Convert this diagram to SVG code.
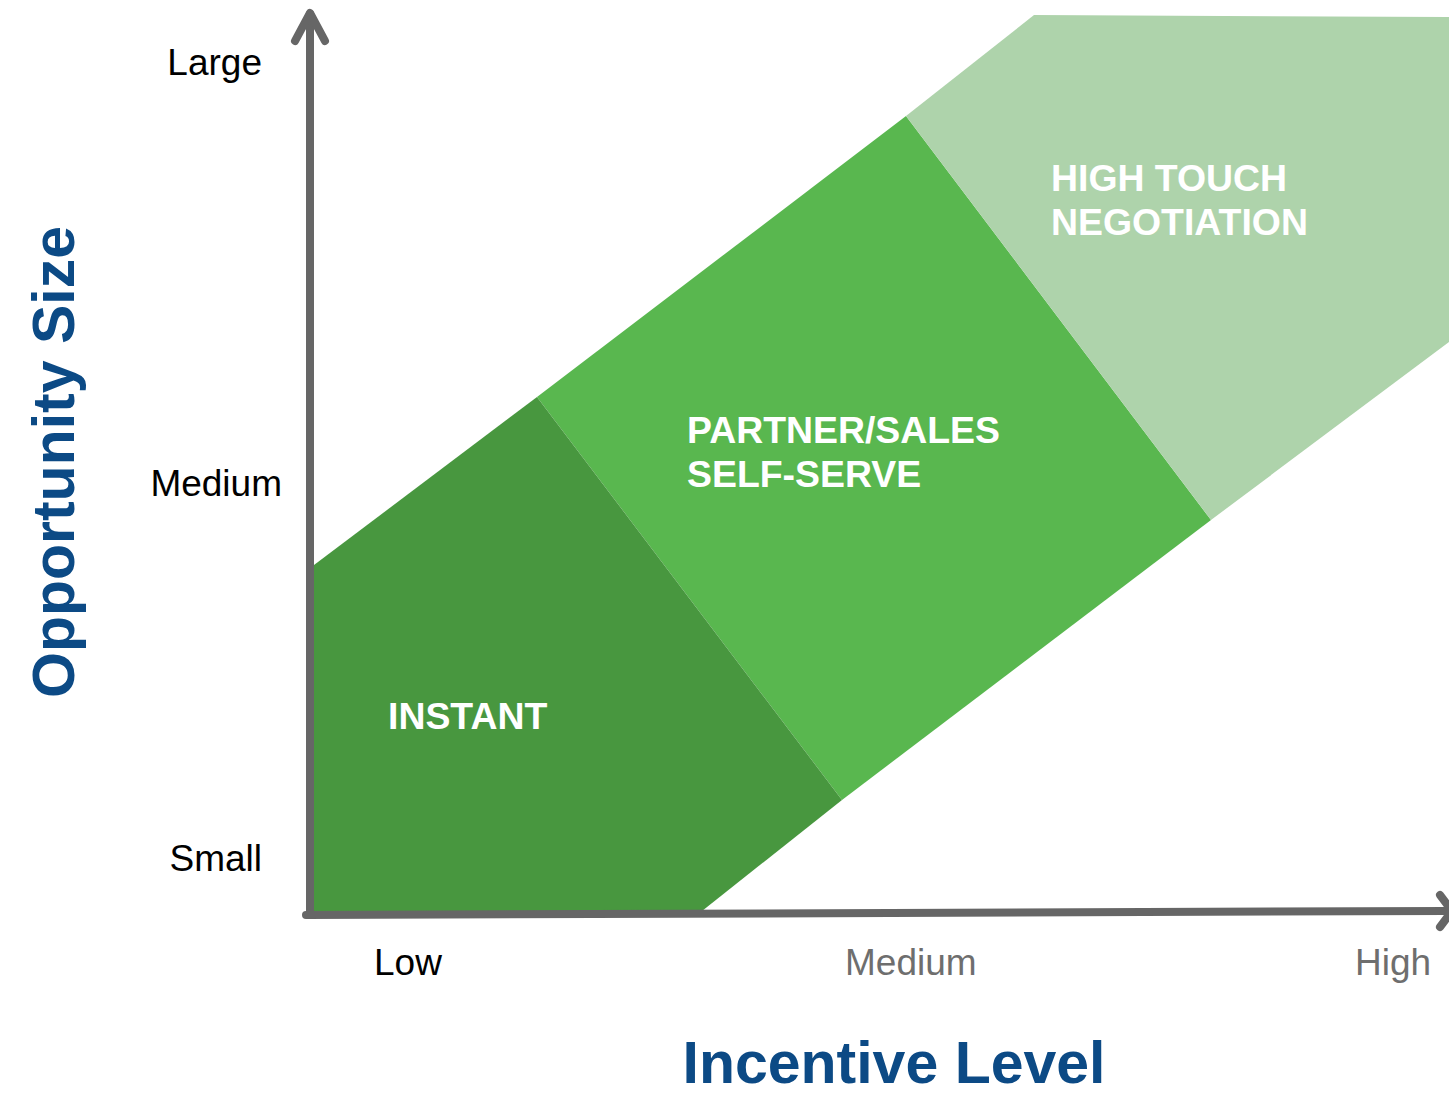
<svg xmlns="http://www.w3.org/2000/svg" width="1449" height="1096" viewBox="0 0 1449 1096">
  <style>
    .tick { font-family: "Liberation Sans", Arial, sans-serif; font-size: 37px; }
    .tick-y { fill: #000000; }
    .tick-x-low { fill: #000000; }
    .tick-x { fill: #6e6e6e; }
    .title { font-family: "Liberation Sans", Arial, sans-serif; font-weight: bold; fill: #0c4a85; font-size: 59px; }
    .zone-label { font-family: "Liberation Sans", Arial, sans-serif; font-weight: bold; fill: #ffffff; font-size: 37.4px; }
    .axis { stroke: #666666; stroke-width: 8; fill: none; stroke-linecap: round; stroke-linejoin: round; }
  </style>

  <rect x="0" y="0" width="1449" height="1096" fill="#ffffff"/>

  <!-- band zones -->
  <g id="zone-partner-self-serve">
    <polygon points="537,397 906,116 1211,520 842,800" fill="#59b74f"/>
    <text class="zone-label" x="687" y="443">PARTNER/SALES</text>
    <text class="zone-label" x="687" y="487">SELF-SERVE</text>
  </g>

  <g id="zone-instant">
    <polygon points="314,565 537,397 842,800 697,915 314,915" fill="#48973f"/>
    <text class="zone-label" x="388" y="729">INSTANT</text>
  </g>

  <g id="zone-high-touch">
    <polygon points="906,116 1034,15 1449,17 1449,342 1211,520" fill="#aed3ab"/>
    <text class="zone-label" x="1051" y="191">HIGH TOUCH</text>
    <text class="zone-label" x="1051" y="235">NEGOTIATION</text>
  </g>

  <!-- axes -->
  <g id="axes">
    <line class="axis" x1="310" y1="915" x2="310" y2="14" stroke-linecap="butt"/>
    <polyline class="axis" points="295,41 310,13 325,41"/>
    <line class="axis" x1="306" y1="915" x2="1447" y2="911" stroke-width="7" stroke-linecap="butt"/>
    <polyline class="axis" points="1440,895 1452,911 1440,927"/>
  </g>

  <!-- y-axis ticks -->
  <g id="y-ticks">
    <text class="tick tick-y" x="262" y="75" text-anchor="end">Large</text>
    <text class="tick tick-y" x="282" y="496" text-anchor="end">Medium</text>
    <text class="tick tick-y" x="262" y="871" text-anchor="end">Small</text>
  </g>

  <!-- x-axis ticks -->
  <g id="x-ticks">
    <text class="tick tick-x-low" x="374" y="975">Low</text>
    <text class="tick tick-x" x="845" y="975">Medium</text>
    <text class="tick tick-x" x="1355" y="975">High</text>
  </g>

  <!-- axis titles -->
  <g id="axis-titles">
    <text class="title" transform="translate(74,462) rotate(-90)" text-anchor="middle">Opportunity Size</text>
    <text class="title" x="894" y="1083" text-anchor="middle">Incentive Level</text>
  </g>
</svg>
